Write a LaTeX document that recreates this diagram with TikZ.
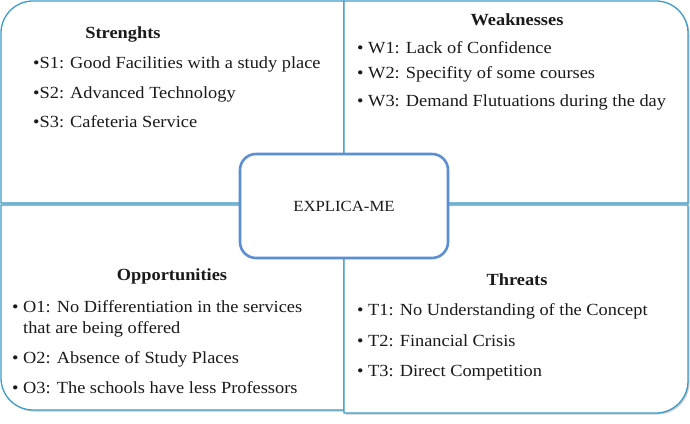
\documentclass[tikz,border=0pt]{standalone}
\usepackage{fontspec}
\setmainfont{Liberation Serif}[FakeStretch=1.08]
\usetikzlibrary{positioning,shadows}
\definecolor{frame}{HTML}{3C9CC8}
\definecolor{hubline}{HTML}{5B8ED3}
\definecolor{ink}{HTML}{1A1A1A}
\definecolor{shade}{HTML}{A8A8A8}
\tikzset{
  quad/.style={
    draw=frame,
    line width=1.3pt,
    fill=white,
    drop shadow={shadow xshift=1.5pt, shadow yshift=-1.5pt, fill=shade, opacity=0.6},
  },
  heading/.style={font=\fontsize{17}{19}\selectfont\bfseries, text=ink, anchor=base, inner sep=0pt},
  entry/.style={font=\fontsize{17}{21}\selectfont, text=ink, anchor=base west, inner sep=0pt, align=left},
  hub/.style={
    draw=hubline,
    line width=2.6pt,
    fill=white,
    rounded corners=16pt,
    minimum width=208pt,
    minimum height=104pt,
    font=\fontsize{15.5}{18}\selectfont,
    text=ink,
  },
}
\newcommand{\bul}{\makebox[11pt][l]{\textbullet}}

\begin{document}
\begin{tikzpicture}[x=1pt,y=1pt]
  \fill[white] (0,0) rectangle (690,423);
  \useasboundingbox (0,0) rectangle (690,423);

  % quadrants
  \draw[quad] (344,220) -- (1,220) -- (1,390) arc[start angle=180, end angle=90, radius=32] -- (344,422) -- cycle;
  \draw[quad] (344,220) -- (344,422) -- (656,422) arc[start angle=90, end angle=0, radius=32] -- (688,220) -- cycle;
  \draw[quad] (344,218) -- (1,218) -- (1,45) arc[start angle=180, end angle=270, radius=32] -- (344,13) -- cycle;
  \draw[quad] (344,218) -- (688,218) -- (688,42) arc[start angle=0, end angle=-90, radius=32] -- (344,10) -- cycle;

  \node[heading] (sHead) at (123,384) {Strenghts};
  \foreach \y/\txt [count=\i] in {
    354/S1: Good Facilities with a study place,
    324/S2: Advanced Technology,
    295/S3: Cafeteria Service} {
    \node[entry] (s\i) at (33,\y) {\textbullet\txt};
  }

  \node[heading] (wHead) at (517,397) {Weaknesses};
  \foreach \y/\txt [count=\i] in {
    369/W1: Lack of Confidence,
    344/W2: Specifity of some courses,
    316/W3: Demand Flutuations during the day} {
    \node[entry] (w\i) at (357,\y) {\bul\txt};
  }

  \node[heading] (oHead) at (172,142) {Opportunities};
  \foreach \y/\txt [count=\i] in {
    89/{O1: No Differentiation in the services\\\hspace*{11pt}that are being offered},
    60/O2: Absence of Study Places,
    30/O3: The schools have less Professors} {
    \node[entry] (o\i) at (12,\y) {\bul\txt};
  }

  \node[heading] (tHead) at (517,137) {Threats};
  \foreach \y/\txt [count=\i] in {
    107/T1: No Understanding of the Concept,
    77/T2: Financial Crisis,
    47/T3: Direct Competition} {
    \node[entry] (t\i) at (357,\y) {\bul\txt};
  }

  \node[hub] (hub) at (344,217) {EXPLICA-ME};
\end{tikzpicture}
\end{document}
